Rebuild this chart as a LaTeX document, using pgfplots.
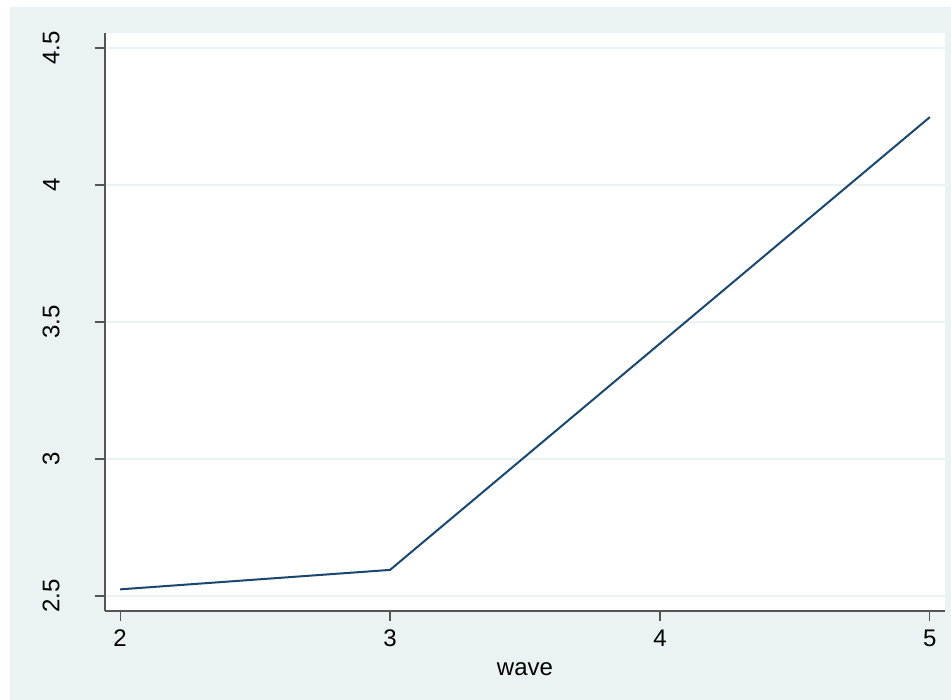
\documentclass[border=0pt]{standalone}
\usepackage{fontspec}
\setmainfont{Liberation Sans}
\usepackage{pgfplots}
\pgfplotsset{compat=1.18}
\definecolor{bg}{HTML}{EAF2F3}
\definecolor{navy}{HTML}{1A476F}
\definecolor{axgray}{HTML}{555555}
\begin{document}
\begin{tikzpicture}
\fill[white] (0pt,0pt) rectangle (713.25pt,525pt);
\fill[bg] (7.5pt,0pt) rectangle (713.25pt,519.75pt);
\begin{axis}[
  at={(78.75pt,66.75pt)}, anchor=south west,
  scale only axis, width=630pt, height=433.5pt,
  xmin=1.944, xmax=5.056, ymin=2.445, ymax=4.555,
  axis x line*=bottom, axis y line*=left,
  axis line style={-, color=axgray, line width=0.9pt},
  axis background/.style={fill=white},
  xtick={2,3,4,5}, ytick={2.5,3,3.5,4,4.5},
  tick align=outside, major tick length=7.5pt,
  tick style={color=axgray, line width=0.9pt},
  ymajorgrids, grid style={color=bg, line width=1.2pt},
  /pgf/number format/assume math mode=true,
  ticklabel style={font=\fontsize{18}{20}\selectfont},
  yticklabel style={rotate=90, anchor=south},
  yticklabel shift=23pt,
  xticklabel shift=3pt,
  xlabel={wave},
  xlabel style={font=\fontsize{18}{20}\selectfont, yshift=-5pt},
]
\addplot[navy, line width=1.5pt] coordinates {(2,2.524) (3,2.595) (5,4.248)};
\end{axis}
\end{tikzpicture}
\end{document}
